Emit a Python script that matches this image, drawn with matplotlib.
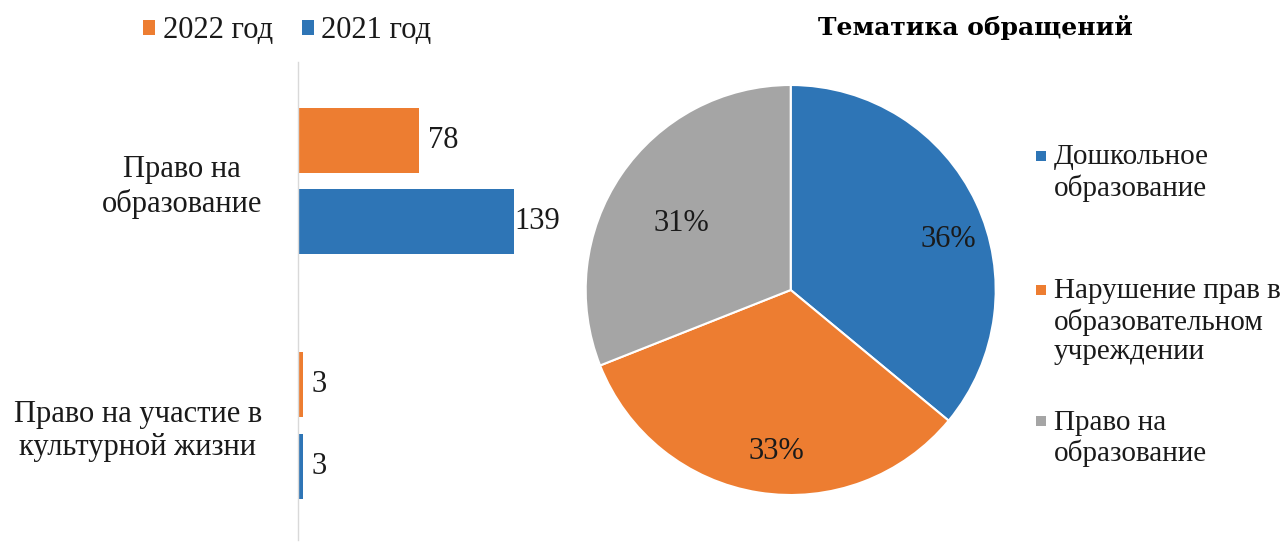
import numpy as np
import matplotlib
matplotlib.use("Agg")
import matplotlib.pyplot as plt
from matplotlib.patches import Rectangle

# ---- data ----
bar_categories = ["Право на\nобразование", "Право на участие в\nкультурной жизни"]
series_names = ["2022 год", "2021 год"]
values_2022 = [78, 3]
values_2021 = [139, 3]

pie_labels = ["Дошкольное\nобразование",
              "Нарушение прав в\nобразовательном\nучреждении",
              "Право на\nобразование"]
pie_values = [36, 33, 31]

title_text = "Тематика обращений"

# ---- style ----
ORANGE = "#ED7D31"
BLUE = "#2E75B6"
GRAY = "#A5A5A5"
TXT = "#1a1a1a"
plt.rcParams['font.family'] = ['Liberation Serif', 'DejaVu Serif']
FS = 22
FS_LEG = 21

W, H = 1280, 542
fig = plt.figure(figsize=(W / 100, H / 100), dpi=100)
fig.patch.set_facecolor("white")

def px_rect(left, top, width, height):
    return [left / W, 1 - (top + height) / H, width / W, height / H]

# ---- bar chart ----
axb = fig.add_axes(px_rect(298, 62, 260, 478))
px_per_unit = 1.554
axb.set_xlim(0, 260 / px_per_unit)
y = np.arange(len(bar_categories))
bh = 0.266
off = 0.167
b22 = axb.barh(y - off, values_2022, height=bh, color=ORANGE, label=series_names[0])
b21 = axb.barh(y + off, values_2021, height=bh, color=BLUE, label=series_names[1])
axb.set_ylim(1.468, -0.487)

pads_2022 = [6.5, 6.5]
pads_2021 = [0.0, 6.5]
for vals, yy, pads in ((values_2022, y - off, pads_2022), (values_2021, y + off, pads_2021)):
    for v, yp, p in zip(vals, yy, pads):
        axb.annotate(str(v), xy=(v, yp), xytext=(p, 0), textcoords="offset points",
                     ha="left", va="center", fontsize=FS, color=TXT)

for s in ["top", "right", "bottom"]:
    axb.spines[s].set_visible(False)
axb.spines["left"].set_color("#d9d9d9")
axb.spines["left"].set_linewidth(1)
axb.set_xticks([])
axb.set_yticks(y)
axb.set_yticklabels(bar_categories, fontsize=FS, color=TXT, multialignment="center")
axb.tick_params(axis="y", length=0, pad=26)

leg = fig.legend(handles=[b22, b21], labels=series_names, loc="center left",
                 bbox_to_anchor=(143 / W, 1 - 31 / H), ncol=2, frameon=False,
                 fontsize=FS, handlelength=0.39, handleheight=0.39,
                 handletextpad=0.25, columnspacing=0.95, borderpad=0, borderaxespad=0)
for t in leg.get_texts():
    t.set_color(TXT)

# ---- pie chart ----
R = 205
axp = fig.add_axes(px_rect(790.7 - R, 290 - R, 2 * R, 2 * R))
wedges, _ = axp.pie(pie_values, colors=[BLUE, ORANGE, GRAY], startangle=90,
                    counterclock=False, radius=1,
                    wedgeprops=dict(edgecolor="white", linewidth=1.5))
axp.set_xlim(-1, 1)
axp.set_ylim(-1, 1)
axp.set_aspect("equal")
label_r = [0.81, 0.78, 0.63]
label_dang = [-6.6, 4.0, 2.0]
tot = sum(pie_values)
for w, v, r, da in zip(wedges, pie_values, label_r, label_dang):
    ang = np.deg2rad((w.theta1 + w.theta2) / 2 + da)
    axp.text(r * np.cos(ang), r * np.sin(ang) - 0.01, f"{round(100 * v / tot)}%",
             ha="center", va="center", fontsize=FS, color=TXT)

fig.text(975 / W, 1 - 27 / H, title_text, ha="center", va="center",
         fontfamily="DejaVu Serif", fontweight="bold", fontsize=18, color="black")

# legend for pie (manual)
entry_y = [156, 290, 421]
for lab, col, yy in zip(pie_labels, [BLUE, ORANGE, GRAY], entry_y):
    fig.patches.append(Rectangle((1036 / W, 1 - (yy + 5) / H), 10 / W, 10 / H,
                                 transform=fig.transFigure, facecolor=col,
                                 edgecolor="none"))
    fig.text(1054 / W, 1 - (yy - 11.5) / H, lab, ha="left", va="top",
             fontsize=FS_LEG, color=TXT, linespacing=1.17)

fig.savefig("out.png", dpi=100, facecolor="white")
